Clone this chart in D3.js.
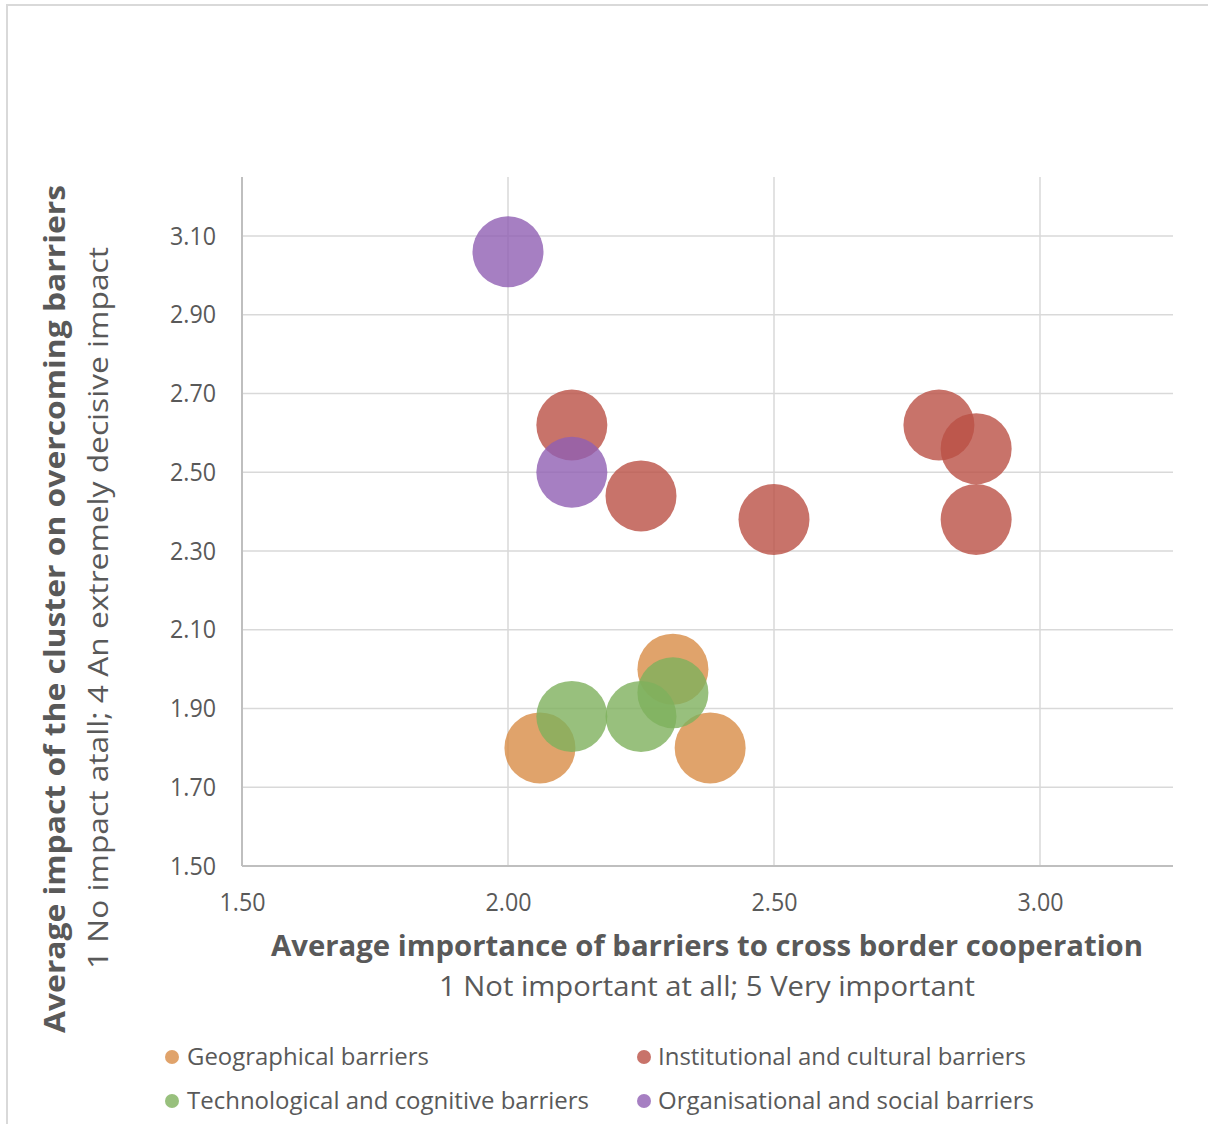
<!DOCTYPE html>
<html>
<head>
<meta charset="utf-8">
<script src="https://cdn.jsdelivr.net/npm/d3@7"></script>
<style>
  html, body { margin: 0; padding: 0; background: #fff; }
  svg { display: block; font-family: "Open Sans", "Noto Sans", sans-serif; }
</style>
</head>
<body>
<svg id="chart" width="1208" height="1124"></svg>
<script>
// Cluster barrier bubbles: x = average importance, y = average impact
const seriesNames = [
  "Geographical barriers",
  "Institutional and cultural barriers",
  "Technological and cognitive barriers",
  "Organisational and social barriers"
];
const seriesColors = ["#D88C46", "#BA5045", "#7EB05D", "#905FB3"];

const geographicalX = [2.31, 2.06, 2.38];
const geographicalY = [2.00, 1.80, 1.80];

const institutionalX = [2.12, 2.25, 2.50, 2.81, 2.88, 2.88];
const institutionalY = [2.62, 2.44, 2.38, 2.62, 2.56, 2.38];

const technologicalX = [2.12, 2.25, 2.31];
const technologicalY = [1.88, 1.88, 1.94];

const organisationalX = [2.00, 2.12];
const organisationalY = [3.06, 2.50];

const xTicks = [1.50, 2.00, 2.50, 3.00];
const yTicks = [1.50, 1.70, 1.90, 2.10, 2.30, 2.50, 2.70, 2.90, 3.10];

const xTitle = "Average importance of barriers to cross border cooperation";
const xSubtitle = "1 Not important at all; 5 Very important";
const yTitle = "Average impact of the cluster on overcoming barriers";
const ySubtitle = "1 No impact atall; 4 An extremely decisive impact";

const seriesX = [geographicalX, institutionalX, technologicalX, organisationalX];
const seriesY = [geographicalY, institutionalY, technologicalY, organisationalY];

const svg = d3.select("#chart");

// Outer frame
svg.append("path")
  .attr("d", "M7,1124 V5 H1208")
  .attr("fill", "none")
  .attr("stroke", "#d9d9d9")
  .attr("stroke-width", 2);

const plot = { left: 242, right: 1173, top: 177, bottom: 866 };

const x = d3.scaleLinear().domain([1.5, 3.25]).range([plot.left, plot.right]);
const y = d3.scaleLinear().domain([1.5, 3.25]).range([plot.bottom, plot.top]);

// Gridlines
const grid = svg.append("g");
grid.selectAll("line.h")
  .data(yTicks.filter(t => t > 1.5))
  .join("line")
  .attr("x1", plot.left).attr("x2", plot.right)
  .attr("y1", d => y(d)).attr("y2", d => y(d))
  .attr("stroke", "#d9d9d9").attr("stroke-width", 1.5);
grid.selectAll("line.v")
  .data(xTicks.filter(t => t > 1.5))
  .join("line")
  .attr("x1", d => x(d)).attr("x2", d => x(d))
  .attr("y1", plot.top).attr("y2", plot.bottom)
  .attr("stroke", "#d9d9d9").attr("stroke-width", 1.5);

// Axes
const xAxis = svg.append("g")
  .attr("transform", `translate(0,${plot.bottom})`)
  .call(d3.axisBottom(x).tickValues(xTicks).tickFormat(d3.format(".2f")).tickSize(0).tickPadding(27));
xAxis.select(".domain").attr("stroke", "#bfbfbf").attr("stroke-width", 2)
  .attr("d", `M${plot.left},0H${plot.right}`);

const yAxis = svg.append("g")
  .attr("transform", `translate(${plot.left},0)`)
  .call(d3.axisLeft(y).tickValues(yTicks).tickFormat(d3.format(".2f")).tickSize(0).tickPadding(26));
yAxis.select(".domain").attr("stroke", "#bfbfbf").attr("stroke-width", 2)
  .attr("d", `M0,${plot.top}V${plot.bottom}`);

svg.selectAll(".tick text")
  .attr("font-family", "'Open Sans', sans-serif")
  .attr("font-size", 25)
  .attr("fill", "#595959")
  .attr("textLength", 46)
  .attr("lengthAdjust", "spacingAndGlyphs");

// Bubbles
const bubbles = svg.append("g");
seriesX.forEach((xs, s) => {
  const pts = xs.map((v, i) => ({ x: v, y: seriesY[s][i] }));
  bubbles.append("g")
    .selectAll("circle")
    .data(pts)
    .join("circle")
    .attr("cx", d => x(d.x))
    .attr("cy", d => y(d.y))
    .attr("r", 35.5)
    .attr("fill", seriesColors[s])
    .attr("fill-opacity", 0.8);
});

// Axis titles
const titles = svg.append("g").attr("fill", "#595959");
titles.append("text")
  .attr("x", 707).attr("y", 956)
  .attr("text-anchor", "middle")
  .attr("font-size", 28).attr("font-weight", 700)
  .attr("textLength", 872).attr("lengthAdjust", "spacingAndGlyphs")
  .text(xTitle);
titles.append("text")
  .attr("x", 707).attr("y", 996)
  .attr("text-anchor", "middle")
  .attr("font-size", 28)
  .attr("textLength", 536).attr("lengthAdjust", "spacingAndGlyphs")
  .text(xSubtitle);

titles.append("text")
  .attr("transform", "translate(65,609) rotate(-90)")
  .attr("text-anchor", "middle")
  .attr("font-size", 28).attr("font-weight", 700)
  .attr("textLength", 848).attr("lengthAdjust", "spacingAndGlyphs")
  .text(yTitle);
titles.append("text")
  .attr("transform", "translate(108,608) rotate(-90)")
  .attr("text-anchor", "middle")
  .attr("font-size", 28)
  .attr("textLength", 722).attr("lengthAdjust", "spacingAndGlyphs")
  .text(ySubtitle);

// Legend
const legendPos = [
  { cx: 172, cy: 1057, tx: 187, w: 242 },
  { cx: 644, cy: 1057, tx: 658, w: 368 },
  { cx: 172, cy: 1101, tx: 187, w: 402 },
  { cx: 644, cy: 1101, tx: 658, w: 376 }
];
const legend = svg.append("g");
seriesNames.forEach((name, i) => {
  const p = legendPos[i];
  legend.append("circle")
    .attr("cx", p.cx).attr("cy", p.cy).attr("r", 7)
    .attr("fill", seriesColors[i]).attr("fill-opacity", 0.8);
  legend.append("text")
    .attr("x", p.tx).attr("y", p.cy + 8)
    .attr("font-size", 23).attr("fill", "#595959")
    .attr("textLength", p.w).attr("lengthAdjust", "spacingAndGlyphs")
    .text(name);
});
</script>
</body>
</html>
